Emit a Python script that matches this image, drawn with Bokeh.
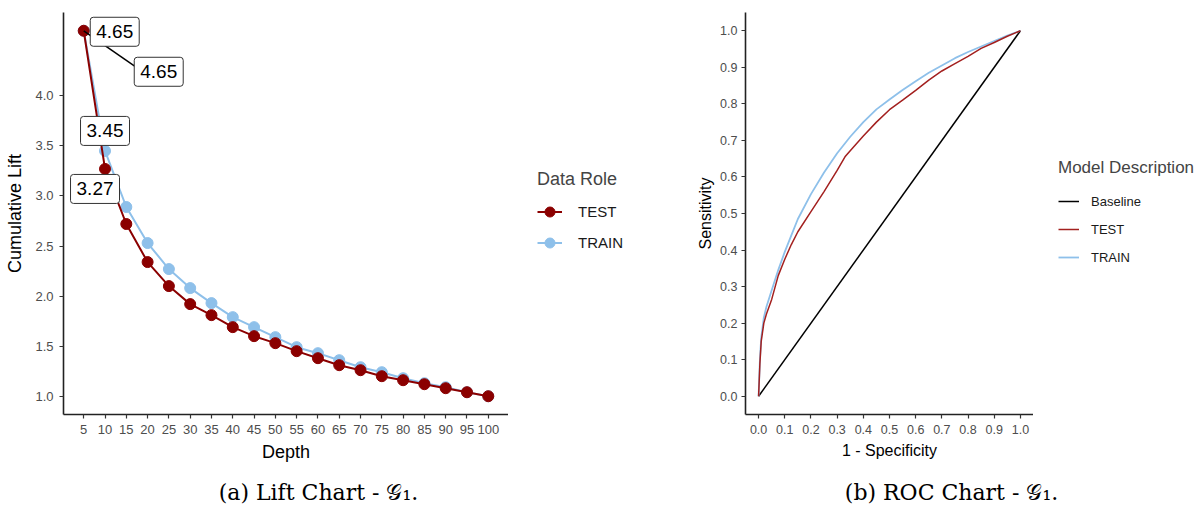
from bokeh.plotting import figure
from bokeh.layouts import row, column
from bokeh.models import Legend, LegendItem, Label, FixedTicker, Range1d, NumeralTickFormatter
from bokeh.embed import file_html
from bokeh.resources import INLINE

# ---------------- data ----------------
depth = [5, 10, 15, 20, 25, 30, 35, 40, 45, 50, 55, 60, 65, 70, 75, 80, 85, 90, 95, 100]
lift_test = [4.65, 3.27, 2.72, 2.34, 2.10, 1.92, 1.81, 1.69, 1.60, 1.53, 1.45, 1.38, 1.31, 1.26, 1.20, 1.16, 1.12, 1.08, 1.04, 1.00]
lift_train = [4.65, 3.45, 2.89, 2.53, 2.27, 2.08, 1.93, 1.79, 1.69, 1.59, 1.49, 1.43, 1.36, 1.29, 1.24, 1.18, 1.13, 1.09, 1.04, 1.00]
depth_ticks = depth
lift_ticks = [1.0, 1.5, 2.0, 2.5, 3.0, 3.5, 4.0]

fpr_train = [0, 0.005, 0.01, 0.02, 0.03, 0.05, 0.075, 0.1, 0.125, 0.15, 0.2, 0.25, 0.3, 0.35, 0.4, 0.45, 0.5, 0.55, 0.6, 0.65, 0.7, 0.75, 0.8, 0.85, 0.9, 0.95, 1.0]
tpr_train = [0, 0.10, 0.16, 0.215, 0.245, 0.29, 0.345, 0.395, 0.44, 0.485, 0.553, 0.612, 0.665, 0.71, 0.75, 0.785, 0.812, 0.838, 0.862, 0.885, 0.905, 0.925, 0.942, 0.957, 0.972, 0.987, 1.0]
fpr_test = [0, 0.005, 0.01, 0.02, 0.03, 0.05, 0.075, 0.1, 0.125, 0.15, 0.2, 0.25, 0.3, 0.33, 0.35, 0.4, 0.45, 0.5, 0.55, 0.6, 0.65, 0.7, 0.75, 0.8, 0.85, 0.9, 0.95, 1.0]
tpr_test = [0, 0.09, 0.15, 0.20, 0.225, 0.265, 0.33, 0.375, 0.415, 0.45, 0.505, 0.56, 0.618, 0.655, 0.672, 0.712, 0.75, 0.784, 0.81, 0.837, 0.865, 0.89, 0.91, 0.93, 0.952, 0.968, 0.985, 1.0]
base_x = [0, 1]
base_y = [0, 1]
roc_ticks = [0.0, 0.1, 0.2, 0.3, 0.4, 0.5, 0.6, 0.7, 0.8, 0.9, 1.0]

roles = ["TEST", "TRAIN"]
models = ["Baseline", "TEST", "TRAIN"]
caption_a = "(a) Lift Chart - 𝒢₁."
caption_b = "(b) ROC Chart - 𝒢₁."

RED = "#8B0000"
BLUE = "#8EC0EA"
ROC_RED = "#A3201F"
FONT = "Liberation Sans"
TOP_H = 470
LEG_SHIFT = 56  # empirical correction of legend anchor
OFF = [-1]      # legend proxy glyph position, outside the visible range


def style(p, tick_size, title_size, lab_std_x, lab_std_y, title_std_x, title_std_y):
    p.grid.visible = False
    p.outline_line_color = None
    p.background_fill_color = "white"
    p.border_fill_color = "white"
    for ax in (p.xaxis[0], p.yaxis[0]):
        ax.axis_line_color = "#222222"
        ax.axis_line_width = 1.6
        ax.major_tick_line_color = "#333333"
        ax.major_tick_line_width = 1.2
        ax.major_tick_in = 0
        ax.major_tick_out = 4
        ax.minor_tick_line_color = None
        ax.major_label_text_font = FONT
        ax.major_label_text_font_size = tick_size
        ax.major_label_text_color = "#4D4D4D"
        ax.axis_label_text_font = FONT
        ax.axis_label_text_font_size = title_size
        ax.axis_label_text_font_style = "normal"
        ax.axis_label_text_color = "black"
    p.xaxis[0].major_label_standoff = lab_std_x
    p.yaxis[0].major_label_standoff = lab_std_y
    p.xaxis[0].axis_label_standoff = title_std_x
    p.yaxis[0].axis_label_standoff = title_std_y


def blank(width, height):
    f = figure(width=width, height=height, x_range=Range1d(0, 1), y_range=Range1d(0, 1),
               output_backend="svg", toolbar_location=None, min_border=0,
               x_axis_type=None, y_axis_type=None)
    f.grid.visible = False
    f.outline_line_color = None
    f.background_fill_color = "white"
    f.border_fill_color = "white"
    return f


# ---------------- Lift chart ----------------
x0, x1 = 0.25, 104.75
y0, y1 = 0.8175, 4.8325
p1 = figure(width=508, height=TOP_H, x_range=Range1d(x0, x1), y_range=Range1d(y0, y1),
            output_backend="svg", toolbar_location=None,
            min_border_left=63, min_border_right=0, min_border_top=12, min_border_bottom=TOP_H - 414,
            x_axis_label="Depth", y_axis_label="Cumulative Lift")
style(p1, "13px", "18px", 6, 6, 5, 7)
p1.xaxis.ticker = FixedTicker(ticks=depth_ticks)
p1.yaxis.ticker = FixedTicker(ticks=lift_ticks)
p1.yaxis.formatter = NumeralTickFormatter(format="0.0")

p1.line(depth, lift_train, line_color=BLUE, line_width=2)
p1.scatter(depth, lift_train, size=11, fill_color=BLUE, line_color=BLUE)
p1.line(depth, lift_test, line_color=RED, line_width=2)
p1.scatter(depth, lift_test, size=11, fill_color=RED, line_color=RED)

# leader segment for the repelled label
fw1, fh1 = 508 - 63, 414 - 12
dxu = (x1 - x0) / fw1
dyu = (y1 - y0) / fh1
p1.segment(x0=[depth[0]], y0=[lift_train[0]], x1=[depth[0] + 52 * dxu], y1=[lift_train[0] - 36 * dyu],
           line_color="black", line_width=1.5)


def box_label(p, x, y, xo, yo, val):
    lab = Label(x=x, y=y, x_offset=xo, y_offset=yo, text=f"{val:.2f}",
                text_align="center", text_baseline="middle",
                text_font=FONT, text_font_size="19px", text_color="black",
                background_fill_color="white", border_line_color="#333333",
                border_line_width=1, border_radius=3, padding=(6, 8))
    p.add_layout(lab)


box_label(p1, depth[0], lift_test[0], 31, -1, lift_test[0])
box_label(p1, depth[0], lift_train[0], 75, -41, lift_train[0])
box_label(p1, depth[1], lift_train[1], 0, 20, lift_train[1])
box_label(p1, depth[1], lift_test[1], -10, -20, lift_test[1])

# legend panel for lift chart
l1 = blank(690 - 508, TOP_H)
g_te_l = l1.line(OFF, OFF, line_color=RED, line_width=2)
g_te_s = l1.scatter(OFF, OFF, size=11, fill_color=RED, line_color=RED)
g_tr_l = l1.line(OFF, OFF, line_color=BLUE, line_width=2)
g_tr_s = l1.scatter(OFF, OFF, size=11, fill_color=BLUE, line_color=BLUE)
leg1 = Legend(items=[LegendItem(label=roles[0], renderers=[g_te_l, g_te_s]),
                     LegendItem(label=roles[1], renderers=[g_tr_l, g_tr_s])],
              location=(29, TOP_H - 258 - LEG_SHIFT), title="Data Role",
              title_text_font=FONT, title_text_font_size="18px", title_text_font_style="normal",
              label_text_font=FONT, label_text_font_size="15px", label_text_color="#1a1a1a",
              glyph_width=25, glyph_height=31, label_height=31, label_standoff=16,
              spacing=0, padding=0, margin=0, title_standoff=6,
              border_line_alpha=0, background_fill_alpha=0)
l1.add_layout(leg1, "center")

# ---------------- ROC chart ----------------
p2 = figure(width=1033 - 690, height=TOP_H, x_range=Range1d(-0.05, 1.05), y_range=Range1d(-0.05, 1.05),
            output_backend="svg", toolbar_location=None,
            min_border_left=55, min_border_right=0, min_border_top=12, min_border_bottom=TOP_H - 418,
            x_axis_label="1 - Specificity", y_axis_label="Sensitivity")
style(p2, "12.5px", "16px", 6, 4, 5, 3)
p2.xaxis.ticker = FixedTicker(ticks=roc_ticks)
p2.yaxis.ticker = FixedTicker(ticks=roc_ticks)
p2.xaxis.formatter = NumeralTickFormatter(format="0.0")
p2.yaxis.formatter = NumeralTickFormatter(format="0.0")

p2.line(base_x, base_y, line_color="black", line_width=1.5)
p2.line(fpr_train, tpr_train, line_color=BLUE, line_width=1.8)
p2.line(fpr_test, tpr_test, line_color=ROC_RED, line_width=1.5)

l2 = blank(1202 - 1033, TOP_H)
g_b = l2.line(OFF, OFF, line_color="black", line_width=1.5)
g_te = l2.line(OFF, OFF, line_color=ROC_RED, line_width=1.5)
g_tr = l2.line(OFF, OFF, line_color=BLUE, line_width=1.8)
leg2 = Legend(items=[LegendItem(label=models[0], renderers=[g_b]),
                     LegendItem(label=models[1], renderers=[g_te]),
                     LegendItem(label=models[2], renderers=[g_tr])],
              location=(25, TOP_H - 271 - LEG_SHIFT), title="Model Description",
              title_text_font=FONT, title_text_font_size="17px", title_text_font_style="normal",
              label_text_font=FONT, label_text_font_size="13px", label_text_color="#1a1a1a",
              glyph_width=21, glyph_height=28, label_height=28, label_standoff=12,
              spacing=0, padding=0, margin=0, title_standoff=9,
              border_line_alpha=0, background_fill_alpha=0)
l2.add_layout(leg2, "center")

# ---------------- captions ----------------
CAP_H = 517 - TOP_H
c1 = blank(690, CAP_H)
c1.add_layout(Label(x=318, y=CAP_H - 22, x_units="screen", y_units="screen", text=caption_a,
                    text_align="center", text_baseline="middle", text_font="DejaVu Serif",
                    text_font_size="22px", text_color="black"))
c2 = blank(512, CAP_H)
c2.add_layout(Label(x=261, y=CAP_H - 22, x_units="screen", y_units="screen", text=caption_b,
                    text_align="center", text_baseline="middle", text_font="DejaVu Serif",
                    text_font_size="22px", text_color="black"))

layout = column(row(p1, l1, p2, l2, spacing=0), row(c1, c2, spacing=0), spacing=0)
open("out.html", "w").write(file_html(layout, INLINE))
